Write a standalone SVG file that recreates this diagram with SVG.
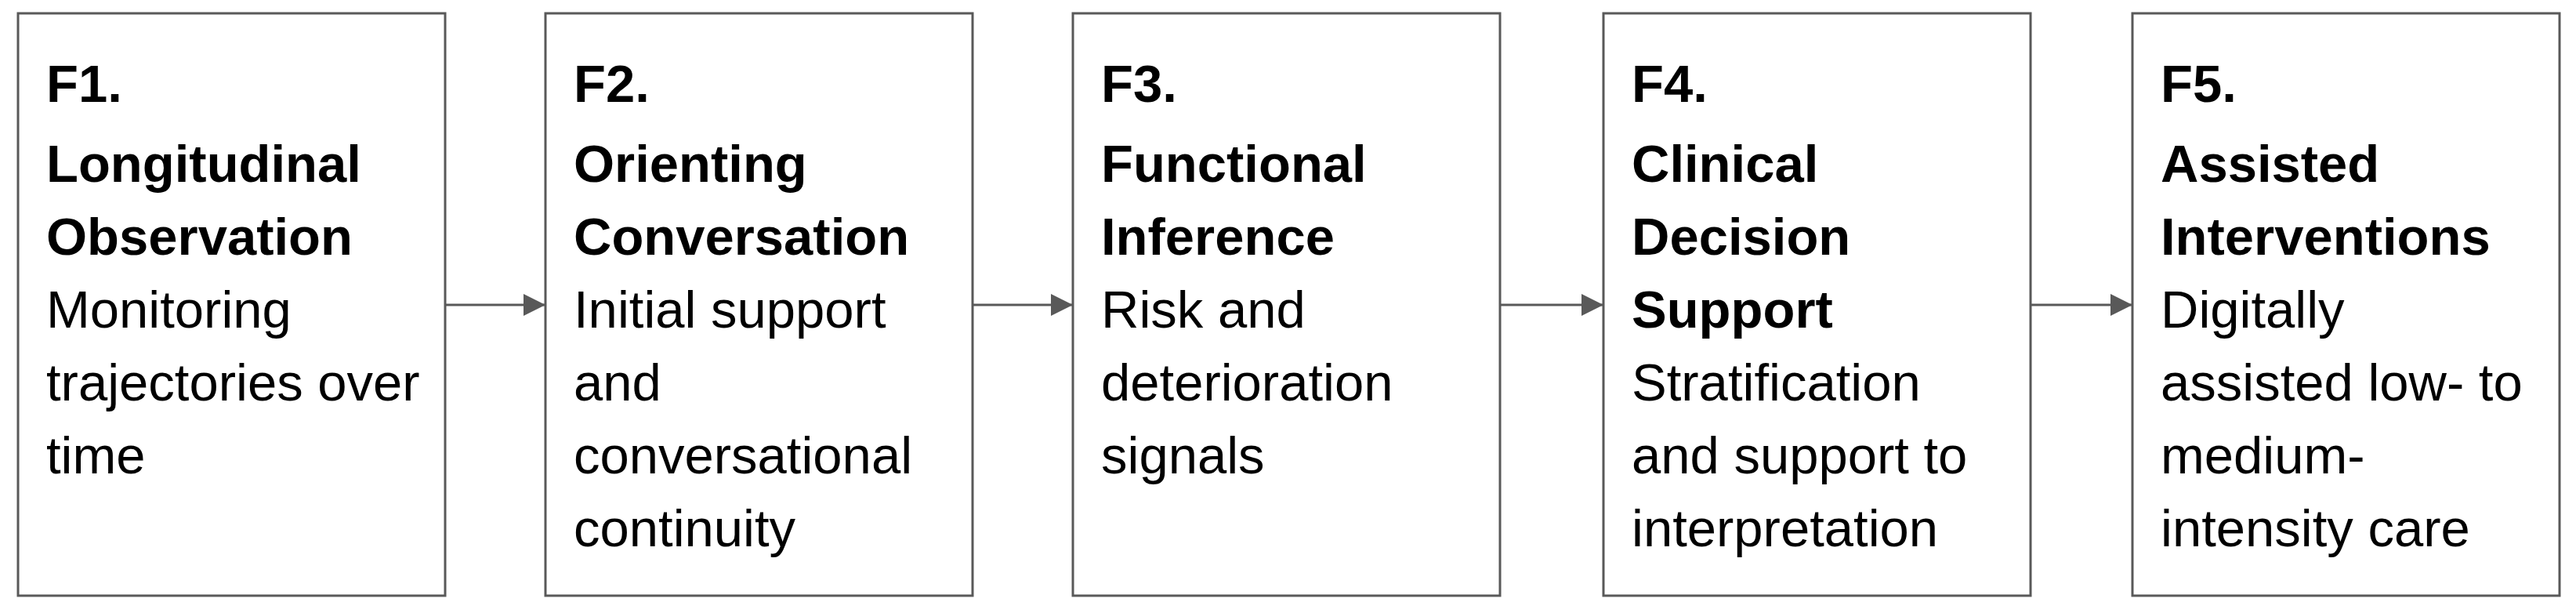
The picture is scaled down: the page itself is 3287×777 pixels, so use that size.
<svg xmlns="http://www.w3.org/2000/svg" width="3287" height="777" viewBox="0 0 3287 777">
<style>
.box{fill:#ffffff;stroke:#595959;stroke-width:3}
.t{font-family:"Liberation Sans",Arial,sans-serif;font-size:67px;fill:#000000}
.b{font-weight:bold}
.conn{stroke:#595959;stroke-width:3;fill:none}
</style>
<defs>
<marker id="arr" markerUnits="userSpaceOnUse" markerWidth="28" markerHeight="28" refX="28" refY="14" orient="auto">
<path d="M0,0 L28,14 L0,28 z" fill="#595959"/>
</marker>
</defs>
<rect width="3287" height="777" fill="#ffffff"/>
<g id="connectors">
<line class="conn" x1="568" y1="389" x2="696" y2="389" marker-end="url(#arr)"/>
<line class="conn" x1="1241" y1="389" x2="1369" y2="389" marker-end="url(#arr)"/>
<line class="conn" x1="1914" y1="389" x2="2046" y2="389" marker-end="url(#arr)"/>
<line class="conn" x1="2591" y1="389" x2="2721" y2="389" marker-end="url(#arr)"/>
</g>
<g id="F1">
<rect class="box" x="23" y="17" width="545" height="743"/>
<text class="t" x="59"><tspan class="b" x="59" y="130">F1.</tspan><tspan class="b" x="59" y="232">Longitudinal</tspan><tspan class="b" x="59" y="325">Observation</tspan><tspan x="59" y="418">Monitoring</tspan><tspan x="59" y="511">trajectories over</tspan><tspan x="59" y="604">time</tspan></text>
</g>
<g id="F2">
<rect class="box" x="696" y="17" width="545" height="743"/>
<text class="t"><tspan class="b" x="732" y="130">F2.</tspan><tspan class="b" x="732" y="232">Orienting</tspan><tspan class="b" x="732" y="325">Conversation</tspan><tspan x="732" y="418">Initial support</tspan><tspan x="732" y="511">and</tspan><tspan x="732" y="604">conversational</tspan><tspan x="732" y="697">continuity</tspan></text>
</g>
<g id="F3">
<rect class="box" x="1369" y="17" width="545" height="743"/>
<text class="t"><tspan class="b" x="1405" y="130">F3.</tspan><tspan class="b" x="1405" y="232">Functional</tspan><tspan class="b" x="1405" y="325">Inference</tspan><tspan x="1405" y="418">Risk and</tspan><tspan x="1405" y="511">deterioration</tspan><tspan x="1405" y="604">signals</tspan></text>
</g>
<g id="F4">
<rect class="box" x="2046" y="17" width="545" height="743"/>
<text class="t"><tspan class="b" x="2082" y="130">F4.</tspan><tspan class="b" x="2082" y="232">Clinical</tspan><tspan class="b" x="2082" y="325">Decision</tspan><tspan class="b" x="2082" y="418">Support</tspan><tspan x="2082" y="511">Stratification</tspan><tspan x="2082" y="604">and support to</tspan><tspan x="2082" y="697">interpretation</tspan></text>
</g>
<g id="F5">
<rect class="box" x="2721" y="17" width="545" height="743"/>
<text class="t"><tspan class="b" x="2757" y="130">F5.</tspan><tspan class="b" x="2757" y="232">Assisted</tspan><tspan class="b" x="2757" y="325">Interventions</tspan><tspan x="2757" y="418">Digitally</tspan><tspan x="2757" y="511">assisted low- to</tspan><tspan x="2757" y="604">medium-</tspan><tspan x="2757" y="697">intensity care</tspan></text>
</g>
</svg>
